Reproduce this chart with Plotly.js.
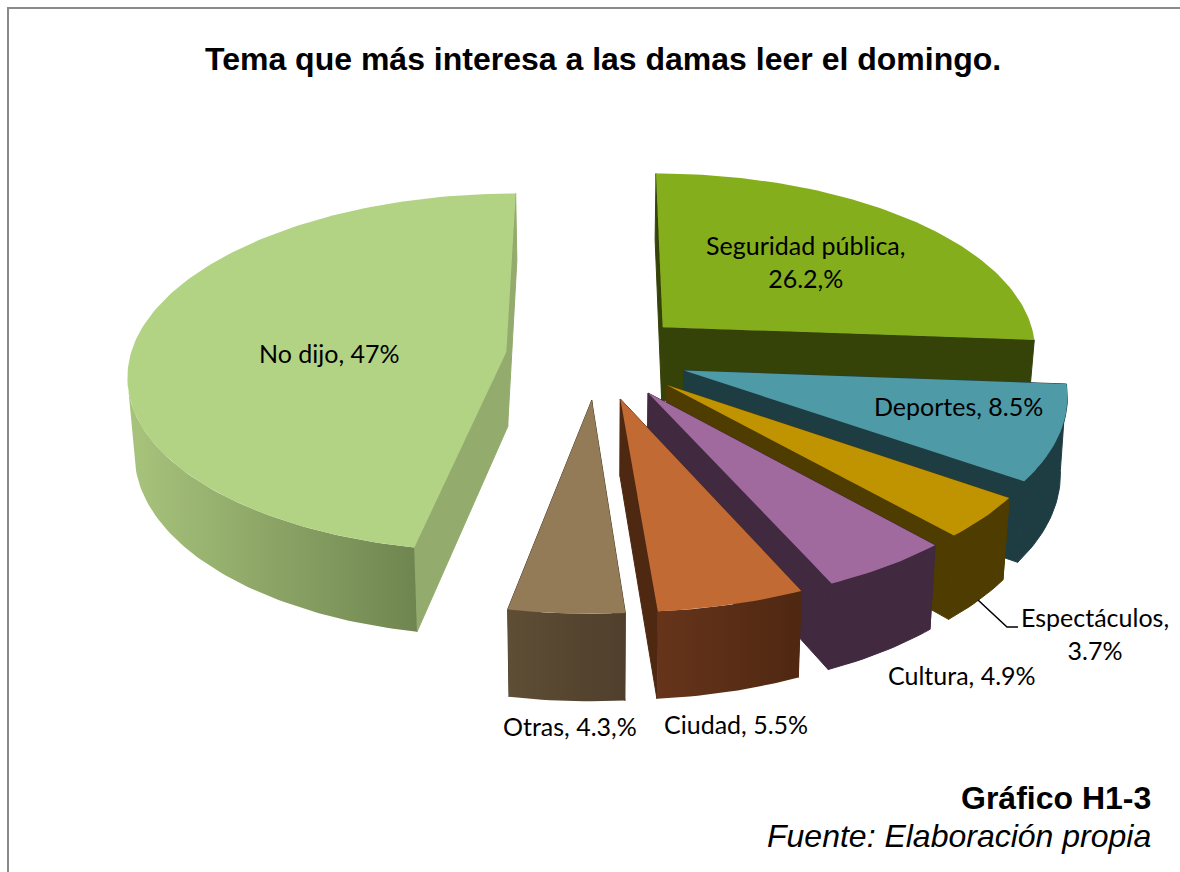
<!DOCTYPE html>
<html>
<head>
<meta charset="utf-8">
<script src="https://cdn.plot.ly/plotly-3.0.1.min.js"></script>
<style>html,body{margin:0;padding:0;background:#fff;overflow:hidden}</style>
</head>
<body>
<div id="chart" style="width:1180px;height:872px"></div>
<script>
// Data, clockwise from 12 o'clock
const categories = ["Seguridad pública","Deportes","Espectáculos","Cultura","Ciudad","Otras","No dijo"];
const values = [26.2,8.5,3.7,4.9,5.5,4.3,47];
const labels = ["Seguridad pública,<br>26.2,%","Deportes, 8.5%","Espectáculos,<br>3.7%","Cultura, 4.9%","Ciudad, 5.5%","Otras, 4.3,%","No dijo, 47%"];
// Styles
const topColors = ["#84ae1c","#4e9aa6","#bf9400","#a06a9e","#c26a33","#937b58","#b3d384"];
const faceColors = ["#354309","#1e3d43","#4f3c00","#41293f","#4f2812","#4f3f2c","#93ab6c"];
const wallStart = ["#354309","#1e3d43","#4f3c00","#41293f","#66341b","#5e4e35","#a8c47c"];
const wallEnd = ["#354309","#1e3d43","#4f3c00","#41293f","#4f2812","#4f3f2c","#6f8550"];
const labelX = [805,958,1095,962,736,570,329];
const labelY = [261,406,633,675,724,726,353];
const drawOrder = [0,1,2,3,6,5,4];
// Projection of the exploded 3D pie
const cx=597, cy=356, R=376, tilt=0.4725, persp=0.1156, depth=75, explode=0.243, shrink=0.985;
const total = values.reduce((a,b)=>a+b,0);
function proj(u,v,low){
  const w=1/(1-persp*v);
  return [cx+R*u*w*(low?shrink:1), cy+R*tilt*v*w+(low?depth*w:0)];
}
let cum=0;
const slices = values.map(val=>{
  const a0=cum/total*2*Math.PI; cum+=val; const a1=cum/total*2*Math.PI;
  const m=(a0+a1)/2;
  return {a0,a1,ox:explode*Math.sin(m),oy:-explode*Math.cos(m)};
});
function rim(s,a,low){ return proj(s.ox+Math.sin(a), s.oy-Math.cos(a), low); }
function apex(s,low){ return proj(s.ox,s.oy,low); }
function poly(pts,color,grad,lw){
  const t={type:'scatter',mode:'lines',x:pts.map(p=>p[0]),y:pts.map(p=>p[1]),
    fill:'toself',line:{width:lw||0,color:color},fillcolor:color,hoverinfo:'skip',showlegend:false};
  if(grad) t.fillgradient={type:'horizontal',colorscale:[[0,grad[0]],[1,grad[1]]]};
  return t;
}
const arcFrom = Math.PI*0.54, arcTo = Math.PI*1.45; // silhouette limits of the rim wall
const traces=[];
drawOrder.forEach(i=>{
  const s=slices[i];
  const top=[];
  const n=Math.max(8,Math.ceil((s.a1-s.a0)/0.02));
  for(let k=0;k<=n;k++) top.push(rim(s,s.a0+(s.a1-s.a0)*k/n,false));
  // radial faces
  traces.push(poly([apex(s,false),rim(s,s.a0,false),rim(s,s.a0,true),apex(s,true),apex(s,false)],faceColors[i],null,1));
  traces.push(poly([apex(s,false),rim(s,s.a1,false),rim(s,s.a1,true),apex(s,true),apex(s,false)],faceColors[i],null,1));
  // outer wall, front part of the rim
  const w0=Math.max(s.a0,arcFrom), w1=Math.min(s.a1,arcTo);
  if(w1>w0){
    const m=Math.max(6,Math.ceil((w1-w0)/0.02)), up=[], lo=[];
    for(let k=0;k<=m;k++){ const a=w0+(w1-w0)*k/m; up.push(rim(s,a,false)); lo.push(rim(s,a,true)); }
    // Deportes keeps its silhouette up to the rim's right extreme
    if(s.a0<arcFrom){ up.unshift(rim(s,s.a0,false)); lo.unshift(rim(s,arcFrom,true)); }
    const wall=up.concat(lo.reverse()); wall.push(up[0]);
    const grad=(i>=4)?[wallStart[i],wallEnd[i]]:null;
    traces.push(poly(wall,faceColors[i],grad,grad?0:1));
  }
  // top face
  const face=[apex(s,false)].concat(top); face.push(apex(s,false));
  traces.push(poly(face,topColors[i]));
});
const annotations = labels.map((t,i)=>({xref:'x',yref:'y',x:labelX[i],y:labelY[i],text:t,showarrow:false,
  xanchor:'center',yanchor:'middle',align:'center',font:{family:'Lato, Carlito, sans-serif',size:25,color:'#000'}}));
annotations.push({xref:'x',yref:'y',x:603,y:59,text:'<b>Tema que más interesa a las damas leer el domingo.</b>',showarrow:false,
  xanchor:'center',yanchor:'middle',font:{family:'Liberation Sans, Arial, sans-serif',size:32,color:'#000'}});
annotations.push({xref:'x',yref:'y',x:1153,y:798,text:'<b>Gráfico H1-3</b>',showarrow:false,
  xanchor:'right',yanchor:'middle',font:{family:'Liberation Sans, Arial, sans-serif',size:32,color:'#000'}});
annotations.push({xref:'x',yref:'y',x:1153,y:836,text:'<i>Fuente: Elaboración propia</i>',showarrow:false,
  xanchor:'right',yanchor:'middle',font:{family:'Liberation Sans, Arial, sans-serif',size:32,color:'#000'}});
const frame={color:'#8a8a8a',width:2};
const shapes=[
  {type:'line',xref:'x',yref:'y',x0:8,y0:8,x1:1180,y1:8,line:frame},
  {type:'line',xref:'x',yref:'y',x0:8,y0:7,x1:8,y1:872,line:frame},
  {type:'path',xref:'x',yref:'y',path:'M 978 600 L 1007 627 L 1018 627',line:{color:'#000',width:1.5}}
];
const layout={width:1180,height:872,margin:{l:0,r:0,t:0,b:0},paper_bgcolor:'#fff',plot_bgcolor:'#fff',
  showlegend:false,hovermode:false,
  xaxis:{range:[0,1180],visible:false,fixedrange:true},
  yaxis:{range:[872,0],visible:false,fixedrange:true},
  annotations,shapes};
Plotly.newPlot('chart',traces,layout,{displayModeBar:false,staticPlot:true});
</script>
</body>
</html>
